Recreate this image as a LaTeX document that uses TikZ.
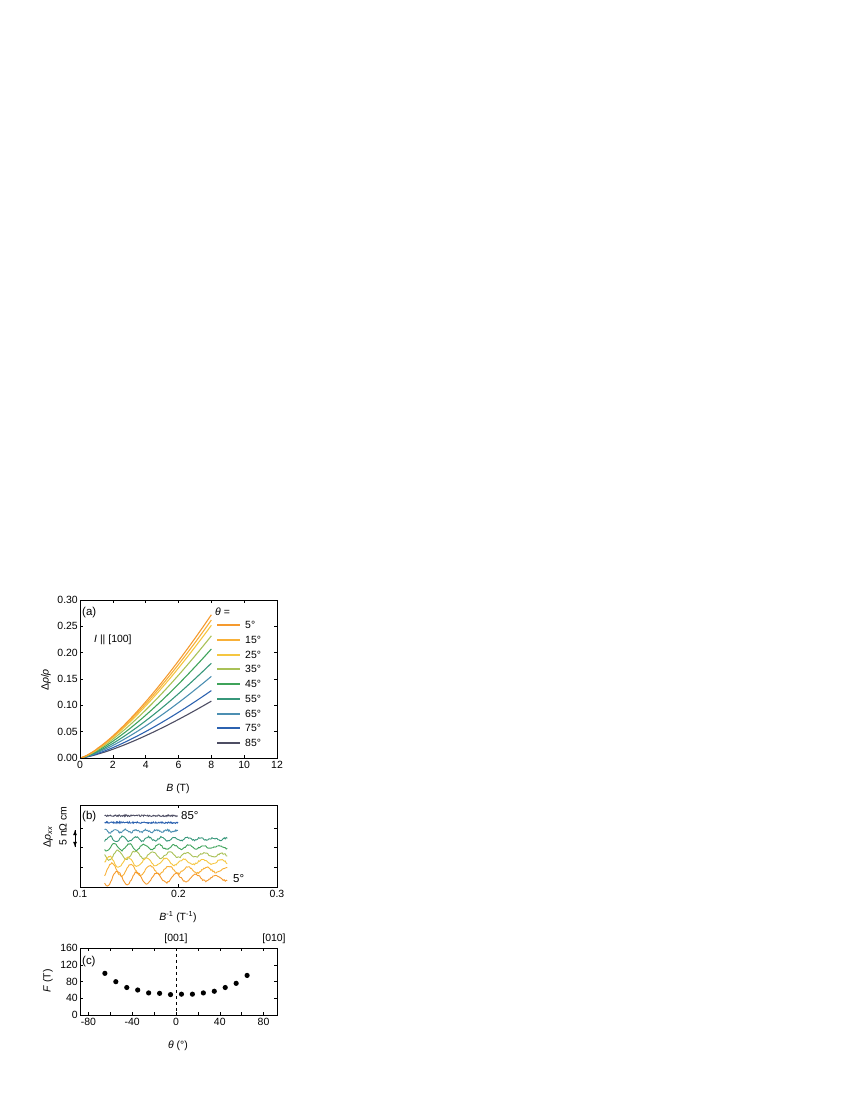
\documentclass[tikz,border=0pt]{standalone}
\usepackage{fontspec}
\setmainfont{Liberation Sans}
\begin{document}
\begin{tikzpicture}[x=1bp,y=-1bp,
  lbl/.style={font=\fontsize{10.5}{12}\selectfont,inner sep=1pt},
  frm/.style={line width=0.6bp},
  tk/.style={line width=0.5bp},
  crv/.style={line width=1.1bp},
  osc/.style={line width=0.9bp}]
\useasboundingbox (0,0) rectangle (850,1100);
\definecolor{c5}{HTML}{F59A2E}\definecolor{c15}{HTML}{F8B038}\definecolor{c25}{HTML}{F5C640}
\definecolor{c35}{HTML}{A9C157}\definecolor{c45}{HTML}{3FA35A}\definecolor{c55}{HTML}{37977A}
\definecolor{c65}{HTML}{4C8FB2}\definecolor{c75}{HTML}{2C62B0}\definecolor{c85}{HTML}{4D4D63}
% ---------- (a)
\foreach \i in {0,2,...,12}{\draw[tk] ({80+16.42*\i},758) -- ++(0,-3); \draw[tk] ({80+16.42*\i},600) -- ++(0,3);
  \node[lbl,anchor=north] at ({80+16.42*\i},760) {\i};}
\foreach \v/\t in {0/0.00,0.05/0.05,0.10/0.10,0.15/0.15,0.20/0.20,0.25/0.25,0.30/0.30}{
  \draw[tk] (80,{758-526.7*\v}) -- ++(3,0); \draw[tk] (277,{758-526.7*\v}) -- ++(-3,0);
  \node[lbl,anchor=east] at (79,{758-526.7*\v}) {\t};}
\foreach \a/\e in {85/0.108,75/0.128,65/0.155,55/0.180,45/0.207,35/0.232,25/0.252,15/0.262,5/0.272}{
  \draw[crv,c\a] plot[domain=0.02:8,samples=60] ({80+16.42*\x},{758-526.7*\e*(\x/8)^1.35});}
\draw[frm] (80,600) rectangle (277,758);
\node[lbl,anchor=west] (pa) at (81,613) {\fontsize{11.5}{13}\selectfont(a)};
\node[lbl,anchor=west] (ia) at (93,640) {\textit{I} || [100]};
\node[lbl,anchor=west] (th) at (214,612) {\textit{θ} =};
\foreach \a [count=\k from 0] in {5,15,25,35,45,55,65,75,85}{
  \draw[line width=2bp,c\a] (217,{625+14.75*\k}) -- (240,{625+14.75*\k});
  \node[lbl,anchor=west] at (244,{625+14.75*\k}) {\a°};}
\node[lbl] (xa) at (178,789) {\textit{B} (T)};
\node[lbl,rotate=90] (ya) at (46,680) {Δ\textit{ρ}/\textit{ρ}};
% ---------- (b)
\pgfmathsetseed{7}
\foreach \a/\b/\F/\A/\uu in {85/816/0/0.6/0.2,75/823/0/0.8/0.2,65/831/95/1.8/0.2,55/839/76/3/0.25,45/847/66/4/0.25,35/855/57/5/0.25,25/862/53/6/0.25,15/870/52/7/0.25,5/878/50/8/0.25}{
  \draw[osc,c\a] plot[domain=0.125:\uu,samples=120] ({80+985*(\x-0.1)},{\b-\A*exp(-9*(\x-0.125))*cos(\x*\F*360+40)+0.8*rand});}
\draw[frm] (80,805) rectangle (277,887);
\foreach \y in {828,847,867}{\draw[tk] (80,\y) -- ++(3,0); \draw[tk] (277,\y) -- ++(-3,0);}
\foreach \v in {0.1,0.2,0.3}{\draw[tk] ({80+985*(\v-0.1)},887) -- ++(0,-3); \draw[tk] ({80+985*(\v-0.1)},805) -- ++(0,3);
  \node[lbl,anchor=north] at ({80+985*(\v-0.1)},889) {\v};}
\node[lbl,anchor=west] (pb) at (81,817) {\fontsize{11.5}{13}\selectfont(b)};
\node[lbl,anchor=west] (l85) at (180,816) {\fontsize{11.5}{13}\selectfont 85°};
\node[lbl,anchor=west] (l5) at (232,879) {\fontsize{11.5}{13}\selectfont 5°};
\node[lbl,rotate=90] (yb) at (48,837) {Δ\textit{ρ}\textsubscript{\textit{xx}}};
\node[lbl,rotate=90] (sb) at (63,826) {5 nΩ cm};
\coordinate (ar1) at (75,830); \coordinate (ar2) at (75,847);
\draw[-latex,line width=0.8bp] (ar1) -- (ar2); \draw[-latex,line width=0.8bp] (ar2) -- (ar1);
\node[lbl] (xb) at (178,917) {\textit{B}\textsuperscript{-1} (T\textsuperscript{-1})};
% ---------- (c)
\draw[frm] (80,948) rectangle (277,1015);
\foreach \d in {-80,-60,...,80}{\draw[tk] ({176+1.094*\d},1015) -- ++(0,-3); \draw[tk] ({176+1.094*\d},948) -- ++(0,3);}
\foreach \d in {-80,-40,0,40,80}{\node[lbl,anchor=north] at ({176+1.094*\d},1017) {\d};}
\foreach \v in {0,40,80,120,160}{\draw[tk] (80,{1015-0.4167*\v}) -- ++(3,0); \draw[tk] (277,{1015-0.4167*\v}) -- ++(-3,0);
  \node[lbl,anchor=east] at (79,{1015-0.4167*\v}) {\v};}
\draw[dashed,line width=0.5bp] (176,948) -- (176,1015);
\foreach \d/\f in {-65/100,-55/80,-45/66,-35/60,-25/53,-15/52,-5/49,5/50,15/50,25/53,35/57,45/66,55/76,65/95}{
  \fill ({176+1.094*\d},{1015-0.4167*\f}) circle (2.6bp);}
\node[lbl] (t1) at (176,939) {[001]};
\node[lbl] (t2) at (274,939) {[010]};
\node[lbl,anchor=west] (pc) at (81,962) {\fontsize{11.5}{13}\selectfont(c)};
\node[lbl,rotate=90] (yc) at (48,981) {\textit{F} (T)};
\node[lbl] (xc) at (178,1046) {\textit{θ} (°)};
\end{tikzpicture}
\end{document}
